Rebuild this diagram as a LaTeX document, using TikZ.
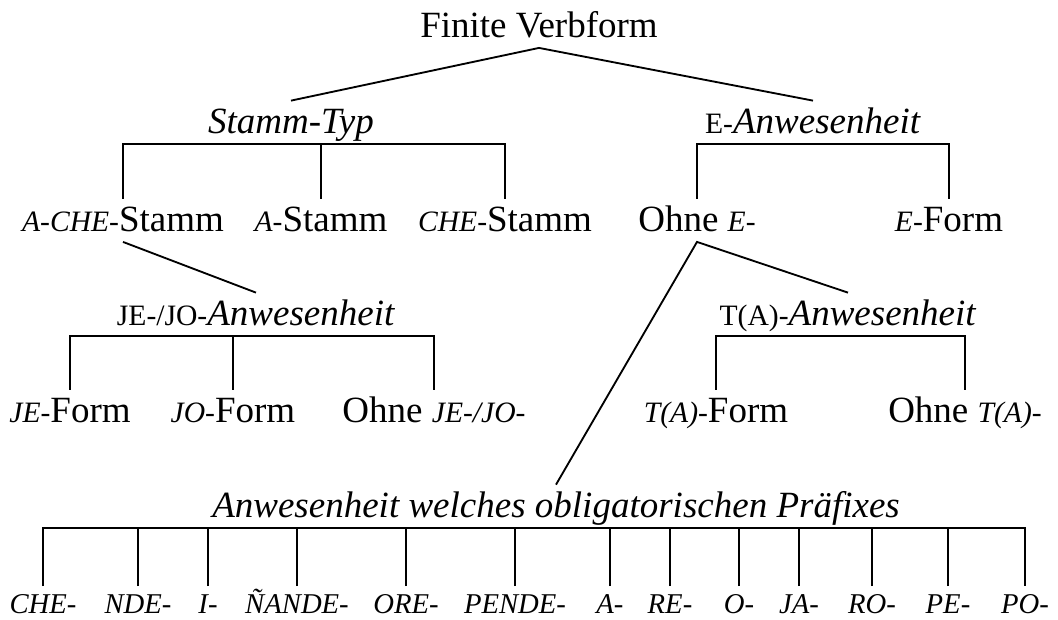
\documentclass[tikz,border=0pt]{standalone}
\usepackage{fontspec}
\setmainfont{Liberation Serif}
% small capitals for the prefixes
\newcommand{\ksc}[1]{{\fontsize{16}{18}\selectfont #1}}

\begin{document}
\begin{tikzpicture}[x=0.5405pt, y=-0.5405pt, line width=1pt,
  font=\fontsize{20}{24}\selectfont,
  lbl/.style={inner xsep=0pt, inner ysep=1pt, text height=16pt, text depth=4.4pt, anchor=base},
  pre/.style={lbl, font=\fontsize{15.5}{18}\selectfont\itshape, text height=13pt}]
  \useasboundingbox (0,0) rectangle (1058,619);

  % levels 0 and 1
  \node[lbl] (root) at (539,37) {Finite Verbform};
  \node[lbl] (stammtyp) at (291,133) {\textit{Stamm-Typ}};
  \node[lbl] (eanw) at (813,133) {\ksc{E-}\textit{Anwesenheit}};
  \draw (stammtyp.north) -- (root.south) -- (eanw.north);

  % stem types
  \node[lbl] (achestamm) at (123,231) {\ksc{\textit{A-CHE-}}Stamm};
  \node[lbl] (astamm) at (321,231) {\ksc{\textit{A-}}Stamm};
  \node[lbl] (chestamm) at (505,231) {\ksc{\textit{CHE-}}Stamm};
  \draw (achestamm.north) |- (stammtyp.south) -| (chestamm.north);
  \draw (astamm.north) -- (astamm.north |- stammtyp.south);

  % e-forms
  \node[lbl] (ohnee) at (697,231) {Ohne \ksc{\textit{E-}}};
  \node[lbl] (eform) at (949,231) {\ksc{\textit{E-}}Form};
  \draw (ohnee.north) |- (eanw.south) -| (eform.north);

  % je-/jo-
  \node[lbl] (jejoanw) at (256,325) {\ksc{JE-/JO-}\textit{Anwesenheit}};
  \draw (achestamm.south) -- (jejoanw.north);
  \node[lbl] (jeform) at (70,422) {\ksc{\textit{JE-}}Form};
  \node[lbl] (joform) at (233,422) {\ksc{\textit{JO-}}Form};
  \node[lbl] (ohnejejo) at (434,422) {Ohne \ksc{\textit{JE-/JO-}}};
  \draw (jeform.north) |- (jejoanw.south) -| (ohnejejo.north);
  \draw (joform.north) -- (joform.north |- jejoanw.south);

  % t(a)-
  \node[lbl] (taanw) at (848,325) {\ksc{T(A)-}\textit{Anwesenheit}};
  \node[lbl] (taform) at (716,422) {\ksc{\textit{T(A)-}}Form};
  \node[lbl] (ohneta) at (965,422) {Ohne \ksc{\textit{T(A)-}}};
  \draw (taform.north) |- (taanw.south) -| (ohneta.north);

  % obligatory prefixes
  \node[lbl] (praef) at (556,517) {\textit{Anwesenheit welches obligatorischen Präfixes}};
  \draw (praef.north) -- (ohnee.south) -- (taanw.north);
  \foreach \x/\t [count=\i] in {43/CHE-, 138/NDE-, 208/I-, 297/ÑANDE-, 406/ORE-,
      515/PENDE-, 610/A-, 670/RE-, 739/O-, 799/JA-, 872/RO-, 948/PE-, 1025/PO-}
    \node[pre] (p\i) at (\x,613) {\t};
  \draw (p1.north) |- (praef.south) -| (p13.north);
  \foreach \i in {2,...,12}
    \draw (p\i.north) -- (p\i.north |- praef.south);
\end{tikzpicture}
\end{document}
